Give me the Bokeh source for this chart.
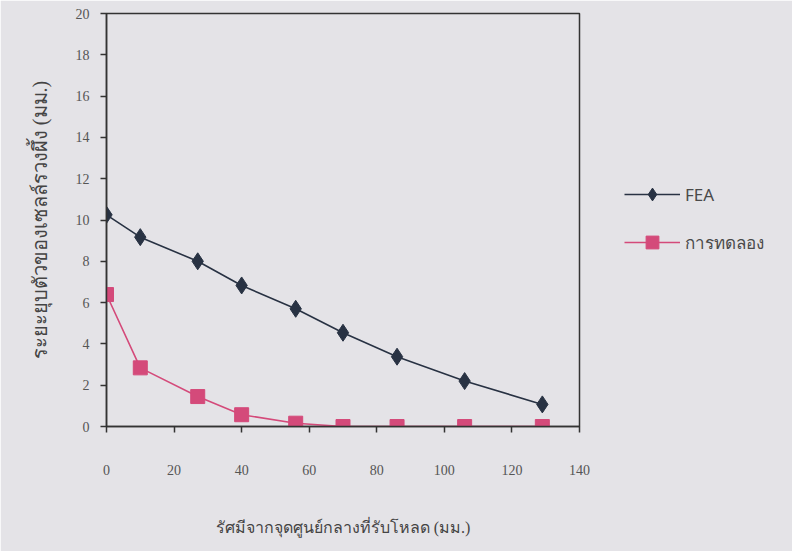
from bokeh.plotting import figure
from bokeh.models import Range1d, FixedTicker, Legend, LegendItem
from bokeh.embed import file_html
from bokeh.resources import INLINE

# data
radius = [0, 10, 27, 40, 56, 70, 86, 106, 129]
fea = [10.25, 9.17, 8.0, 6.83, 5.7, 4.54, 3.38, 2.2, 1.07]
experiment = [6.39, 2.84, 1.45, 0.57, 0.16, 0.0, 0.0, 0.0, 0.0]
x_ticks = [0, 20, 40, 60, 80, 100, 120, 140]
y_ticks = [0, 2, 4, 6, 8, 10, 12, 14, 16, 18, 20]
x_title = "รัศมีจากจุดศูนย์กลางที่รับโหลด (มม.)"
y_title = "ระยะยุบตัวของเซลล์รวงผึ้ง (มม.)"
series_names = ["FEA", "การทดลอง"]

BG = "#e4e3e7"
DARK = "#283243"
PINK = "#d44a7a"
TXT = "#4a4a4a"

p = figure(frame_width=473, frame_height=413, output_backend="svg", toolbar_location=None,
           x_range=Range1d(0, 140), y_range=Range1d(0, 20),
           min_border_left=106, min_border_top=13, min_border_right=213,
           min_border_bottom=125)
p.background_fill_color = BG
p.border_fill_color = BG
p.outline_line_color = "#333333"
p.outline_line_width = 1.5
p.grid.visible = False

for ax in (p.xaxis[0], p.yaxis[0]):
    ax.axis_line_color = "#333333"
    ax.axis_line_width = 1.5
    ax.major_tick_line_color = "#333333"
    ax.major_tick_line_width = 1.5
    ax.major_tick_in = 0
    ax.major_tick_out = 6
    ax.minor_tick_line_color = None
    ax.major_label_text_font = "Liberation Serif"
    ax.major_label_text_font_size = "14px"
    ax.major_label_text_color = "#555555"
    ax.axis_label_text_font = "Liberation Serif"
    ax.axis_label_text_font_size = "16px"
    ax.axis_label_text_font_style = "normal"
    ax.axis_label_text_color = "#444444"

p.xaxis[0].ticker = FixedTicker(ticks=x_ticks)
p.yaxis[0].ticker = FixedTicker(ticks=y_ticks)
p.xaxis[0].major_label_standoff = 32
p.xaxis[0].axis_label = x_title
p.xaxis[0].axis_label_standoff = 41
p.yaxis[0].axis_label = y_title
p.yaxis[0].axis_label_text_font_size = "20px"
p.yaxis[0].major_label_standoff = 11
p.yaxis[0].axis_label_standoff = 22

l1 = p.line(radius, fea, line_color=DARK, line_width=1.6)
m1 = p.scatter(radius, fea, marker="diamond", size=17, fill_color=DARK, line_color=DARK)
l2 = p.line(radius, experiment, line_color=PINK, line_width=1.6)
m2 = p.scatter(radius, experiment, marker="square", size=14, fill_color=PINK, line_color=PINK)

legend = Legend(items=[LegendItem(label=series_names[0], renderers=[l1, m1]),
                       LegendItem(label=series_names[1], renderers=[l2, m2])],
                location=(45, 168), background_fill_alpha=0, border_line_color=None,
                glyph_width=56, glyph_height=32, spacing=16, label_text_font="Noto Sans",
                label_text_font_size="17px", label_text_color=TXT, padding=4)
p.add_layout(legend, "right")

open("out.html", "w").write(file_html(p, INLINE))
